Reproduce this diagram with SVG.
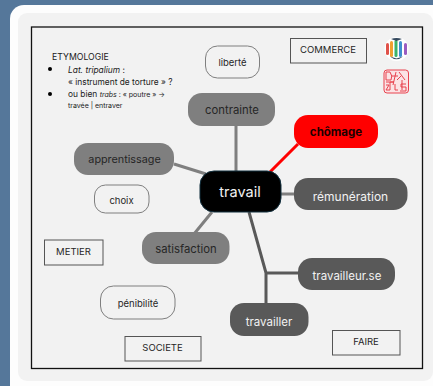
<svg xmlns="http://www.w3.org/2000/svg" width="433" height="386" viewBox="0 0 433 386">
<style>
text{font-family:"Inter","Liberation Sans",sans-serif;text-anchor:middle;dominant-baseline:central}
.pill{stroke:none}
.g1{fill:#7f7f7f}.g2{fill:#595959}
.t1{font-size:11.3px;fill:#262626}
.t2{font-size:11.5px;fill:#f2f2f2}
.o{fill:#f2f2f2;stroke:#7f7f7f;stroke-width:1}
.o2{fill:#f2f2f2;stroke:#555;stroke-width:1}
.s{font-size:9.5px;fill:#262626}
.e{font-size:8.4px;fill:#1a1a1a;text-anchor:start}
.c{fill:none;stroke-width:3}
</style>
<rect width="433" height="386" fill="#55779a"/>
<rect x="10" y="5" width="440" height="400" rx="14" fill="#fdfdfd"/>
<rect x="18" y="13" width="415" height="368" rx="9" fill="#f2f2f2"/>
<rect x="31.500" y="27" width="391" height="341.500" fill="none" stroke="#111" stroke-width="1.300"/>
<g id="connectors">
<path class="c" stroke="#7f7f7f" d="M236 126V172M174 164L206 174M212 212L194 234M281 194H295"/>
<path class="c" stroke="#f00" d="M270 172L298 144"/>
<path class="c" stroke="#595959" d="M249 212L266 273H300M266 273V304"/>
</g>
<g id="etymologie">
<text class="e" x="52" y="56.500" style="font-size:8.700px">ETYMOLOGIE</text>
<circle cx="50" cy="69" r="2" fill="#000"/>
<text class="e" x="68" y="69.500" font-style="italic">Lat. tripalium<tspan font-style="normal"> :</tspan></text>
<text class="e" x="68" y="81.500">« instrument de torture » ?</text>
<circle cx="50" cy="94" r="2" fill="#000"/>
<text class="e" x="68" y="94">ou bien <tspan font-style="italic" font-size="7px">trabs</tspan><tspan font-size="7px"> : « poutre » →</tspan></text>
<text class="e" x="68" y="105" style="font-size:7px">travée | entraver</text>
</g>
<g id="liberte"><rect class="o" x="205.500" y="46" width="54" height="32" rx="12"/><text class="t1" style="font-size:9.500px" x="232.500" y="62">liberté</text></g>
<g id="contrainte"><rect class="pill g1" x="188" y="93" width="87" height="33" rx="14"/><text class="t1" x="232" y="110">contrainte</text></g>
<g id="chomage"><rect class="pill" fill="#f00" x="294" y="115" width="84" height="33" rx="14"/><text x="336" y="132" style="font-size:11.500px;font-weight:700;fill:#1a0000">chômage</text></g>
<g id="apprentissage"><rect class="pill g1" x="74" y="143" width="100" height="32" rx="14"/><text class="t1" style="font-size:10.800px" x="124.500" y="159">apprentissage</text></g>
<g id="choix"><rect class="o" x="94.500" y="185" width="54.500" height="28" rx="11"/><text class="t1" style="font-size:9.500px" x="121.500" y="200">choix</text></g>
<g id="travail"><rect x="200" y="171" width="81" height="41" rx="14" fill="#000" stroke="#12303f"/><text x="240" y="191.500" style="font-size:14.500px;fill:#f2f2f2">travail</text></g>
<g id="remuneration"><rect class="pill g2" x="294" y="178" width="113.500" height="32" rx="14"/><text class="t2" style="font-size:12px" x="350.500" y="196">rémunération</text></g>
<g id="satisfaction"><rect class="pill g1" x="142" y="232" width="87.500" height="32" rx="14"/><text class="t1" x="186" y="248.500">satisfaction</text></g>
<g id="travailleur"><rect class="pill g2" x="298" y="258" width="97" height="32" rx="14"/><text class="t2" x="347" y="275.500">travailleur.se</text></g>
<g id="travailler"><rect class="pill g2" x="230" y="303" width="78.500" height="33" rx="14"/><text class="t2" x="269" y="321.500">travailler</text></g>
<g id="penibilite"><rect class="o" x="100.500" y="286" width="74.500" height="33" rx="13"/><text class="t1" style="font-size:9.500px" x="138" y="303">pénibilité</text></g>
<g id="commerce"><rect class="o2" x="290.500" y="38.500" width="76" height="24.500"/><text class="s" x="328" y="49">COMMERCE</text></g>
<g id="metier"><rect class="o2" x="44.500" y="240" width="58.500" height="25"/><text class="s" x="73.500" y="251">METIER</text></g>
<g id="societe"><rect class="o2" x="125" y="336.500" width="76" height="24.500"/><text class="s" x="162.500" y="347.500">SOCIETE</text></g>
<g id="faire"><rect class="o2" x="332.500" y="330.500" width="67.500" height="24.500"/><text class="s" x="366" y="341">FAIRE</text></g>
<g id="logo1">
<circle cx="396.500" cy="49" r="12" fill="#fff"/>
<rect x="386" y="43" width="3" height="12" rx="1.500" fill="#e0524a"/>
<rect x="390" y="41" width="3" height="16" rx="1.500" fill="#f0a030"/>
<rect x="394.500" y="40" width="3" height="17" rx="1.500" fill="#3db36b"/>
<rect x="399" y="41" width="3" height="16" rx="1.500" fill="#3e8fd0"/>
<rect x="404" y="43" width="3" height="12" rx="1.500" fill="#9a5cc0"/>
<path d="M391 39Q396.500 37 402 39L396.500 41ZM390 56.500Q396.500 62 403 56.500L396.500 58.500Z" fill="#34495e"/>
</g>
<g id="logo2" fill="none" stroke="#e8434f" stroke-width="1">
<rect x="384" y="70" width="24.500" height="23" rx="3" fill="#fbe3e5"/>
<path d="M386 72V80H391Q393 76 390 72H386M396 72L393 85M399 72L405 80M401 76L397 80M394 82H390V90M395 84V90H398M402 80V90M386 85H389L386 90H390M406 84H401V87H406V91H400M392 76H398M386 82H394"/>
</g>
</svg>
